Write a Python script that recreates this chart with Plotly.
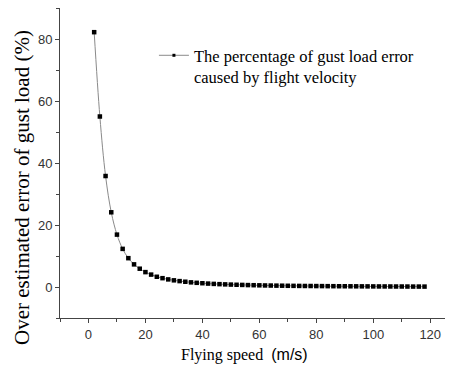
import plotly.graph_objects as go

speed = list(range(2, 120, 2))
error_pct = [82.2, 55.0, 35.8, 24.1, 16.9, 12.3, 9.3, 7.3, 5.9, 4.8,
             4.0, 3.3, 2.85, 2.45, 2.15, 1.9, 1.7, 1.5, 1.35, 1.22,
             1.1, 1.0, 0.92, 0.85, 0.78, 0.72, 0.67, 0.62, 0.58, 0.54,
             0.5, 0.47, 0.44, 0.42, 0.39, 0.37, 0.35, 0.33, 0.32, 0.3,
             0.29, 0.27, 0.26, 0.25, 0.24, 0.23, 0.22, 0.21, 0.2, 0.19,
             0.18, 0.18, 0.17, 0.16, 0.16, 0.15, 0.14, 0.14, 0.13]
x_ticks = [0, 20, 40, 60, 80, 100, 120]
y_ticks = [0, 20, 40, 60, 80]
legend_label = "The percentage of gust load error<br>caused by flight velocity"
x_title = "Flying speed  <span style='font-family:Liberation Sans'>(m/s)</span>"
y_title = "Over estimated error of gust load (%)"

fig = go.Figure()
fig.add_trace(go.Scatter(
    x=speed, y=error_pct, mode="lines+markers", showlegend=False,
    line=dict(color="#8a8a8a", width=1, shape="spline"),
    marker=dict(symbol="square", size=4.5, color="black"),
))
fig.add_trace(go.Scatter(
    x=[None], y=[None], mode="lines+markers", name=legend_label,
    line=dict(color="#8a8a8a", width=1),
    marker=dict(symbol="square", size=3, color="black"),
))

axis_common = dict(
    showgrid=False, zeroline=False, showline=True, linecolor="#444", linewidth=1,
    ticks="outside", ticklen=4, tickcolor="#444", automargin=False,
    tickfont=dict(family="Liberation Sans, Arial", size=13, color="#333"),
    minor=dict(ticks="outside", ticklen=3, tickcolor="#444"),
)
serif = "Liberation Serif, Times New Roman"

fig.update_layout(
    width=445, height=359,
    margin=dict(l=52, r=0, t=0, b=49),
    paper_bgcolor="white", plot_bgcolor="white",
    showlegend=True,
    legend=dict(x=0.239, y=0.903, xanchor="left", yanchor="top", valign="top",
                font=dict(family=serif, size=16.5, color="black"),
                bgcolor="rgba(0,0,0,0)", itemwidth=30),
    xaxis=dict(range=[-10, 128], tickvals=x_ticks, minor_dtick=10, **axis_common),
    yaxis=dict(range=[-10, 90], tickvals=y_ticks, minor_dtick=10, **axis_common),
    annotations=[
        dict(text=x_title, xref="paper", yref="paper", x=0.47, y=-0.119,
             xanchor="center", yanchor="middle", showarrow=False,
             font=dict(family=serif, size=16, color="black")),
        dict(text=y_title, xref="paper", yref="paper", x=-0.0967, y=0.4226,
             xanchor="center", yanchor="middle", showarrow=False, textangle=-90,
             font=dict(family=serif, size=21, color="black")),
    ],
)

fig.write_html("out.html")
